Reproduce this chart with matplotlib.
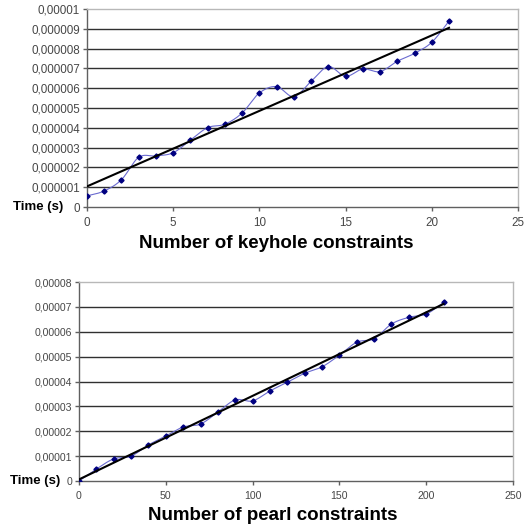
import numpy as np
import matplotlib
matplotlib.use("Agg")
import matplotlib.pyplot as plt
from matplotlib.ticker import FixedLocator, FuncFormatter

plt.rcParams['font.family'] = ['Liberation Sans', 'DejaVu Sans']

# ---- data ----
keyhole_x = list(range(0, 22))
keyhole_t = [0.56e-6, 0.81e-6, 1.38e-6, 2.51e-6, 2.58e-6, 2.74e-6, 3.38e-6, 4.01e-6,
             4.18e-6, 4.75e-6, 5.76e-6, 6.08e-6, 5.57e-6, 6.35e-6, 7.09e-6, 6.60e-6,
             6.97e-6, 6.84e-6, 7.36e-6, 7.76e-6, 8.32e-6, 9.39e-6]
pearl_x = list(range(0, 211, 10))
pearl_t = [0.0, 0.48e-5, 0.89e-5, 1.00e-5, 1.45e-5, 1.81e-5, 2.17e-5, 2.29e-5,
           2.77e-5, 3.26e-5, 3.22e-5, 3.62e-5, 3.97e-5, 4.33e-5, 4.59e-5, 5.06e-5,
           5.58e-5, 5.72e-5, 6.31e-5, 6.58e-5, 6.71e-5, 7.18e-5]
top_yticks = ['0', '0,000001', '0,000002', '0,000003', '0,000004', '0,000005',
              '0,000006', '0,000007', '0,000008', '0,000009', '0,00001']
bot_yticks = ['0', '0,00001', '0,00002', '0,00003', '0,00004', '0,00005',
              '0,00006', '0,00007', '0,00008']
top_xlabel = 'Number of keyhole constraints'
bot_xlabel = 'Number of pearl constraints'
ylabel = 'Time (s)'


def smooth(x, y, n=20):
    x = np.asarray(x, float); y = np.asarray(y, float)
    P = np.column_stack([x, y])
    P = np.vstack([P[0] - (P[1] - P[0]), P, P[-1] + (P[-1] - P[-2])])
    out = []
    for i in range(1, len(P) - 2):
        p0, p1, p2, p3 = P[i - 1], P[i], P[i + 1], P[i + 2]
        t = np.linspace(0, 1, n, endpoint=False)[:, None]
        c = 0.5 * ((2 * p1) + (-p0 + p2) * t + (2 * p0 - 5 * p1 + 4 * p2 - p3) * t ** 2
                   + (-p0 + 3 * p1 - 3 * p2 + p3) * t ** 3)
        out.append(c)
    out.append(P[-2][None, :])
    out = np.vstack(out)
    return out[:, 0], out[:, 1]


W, H = 526, 527
fig = plt.figure(figsize=(W / 100, H / 100), dpi=100)

GRID = '#303030'
FRAME = '#b8b8b8'
SPINE = '#606060'
TXT = '#474747'


def make(ax, xs, ys, xmax, xstep, ymax, ystep, ylabels, tsize):
    sx, sy = smooth(xs, ys)
    ax.plot(sx, sy, color='#6a6ad0', lw=0.8, zorder=3)
    ax.plot(xs, ys, ls='none', marker='D', ms=2.6, color='#000080', zorder=4)
    k, b = np.polyfit(xs, ys, 1)
    ax.plot([xs[0], xs[-1]], [k * xs[0] + b, k * xs[-1] + b], color='black', lw=1.5, zorder=5)
    ax.set_xlim(0, xmax)
    ax.set_ylim(0, ymax)
    ax.set_xticks(np.arange(0, xmax + xstep / 2, xstep))
    yt = [i * ystep for i in range(len(ylabels))]
    ax.yaxis.set_major_locator(FixedLocator(yt))
    ax.yaxis.set_major_formatter(FuncFormatter(lambda v, p: ylabels[int(round(v / ystep))]))
    for y in yt[1:-1]:
        ax.axhline(y, color=GRID, lw=1.0, zorder=1)
    ax.spines['top'].set_color(FRAME)
    ax.spines['right'].set_color(FRAME)
    ax.spines['left'].set_color(SPINE)
    ax.spines['bottom'].set_color(SPINE)
    for s in ax.spines.values():
        s.set_linewidth(1.0)
    ax.tick_params(axis='both', direction='out', length=3, width=1, color=SPINE,
                   labelsize=tsize, labelcolor=TXT)
    ax.tick_params(axis='y', pad=2)
    ax.tick_params(axis='x', pad=4)


ax1 = fig.add_axes([87 / W, 1 - 207 / H, 431 / W, 198 / H])
make(ax1, keyhole_x, keyhole_t, 25, 5, 1e-5, 1e-6, top_yticks, 8.4)
ax2 = fig.add_axes([79 / W, 1 - 481 / H, 434 / W, 199 / H])
make(ax2, pearl_x, pearl_t, 250, 50, 8e-5, 1e-5, bot_yticks, 7.6)

fig.text(13 / W, 1 - 207 / H, ylabel, ha='left', va='center', fontsize=9.5, fontweight='bold')
fig.text(10 / W, 1 - 481 / H, ylabel, ha='left', va='center', fontsize=9.5, fontweight='bold')
fig.text(276 / W, 1 - 243 / H, top_xlabel, ha='center', va='center', fontsize=13.5, fontweight='bold')
fig.text(273 / W, 1 - 515 / H, bot_xlabel, ha='center', va='center', fontsize=13.5, fontweight='bold')

fig.savefig('out.png', dpi=100)
